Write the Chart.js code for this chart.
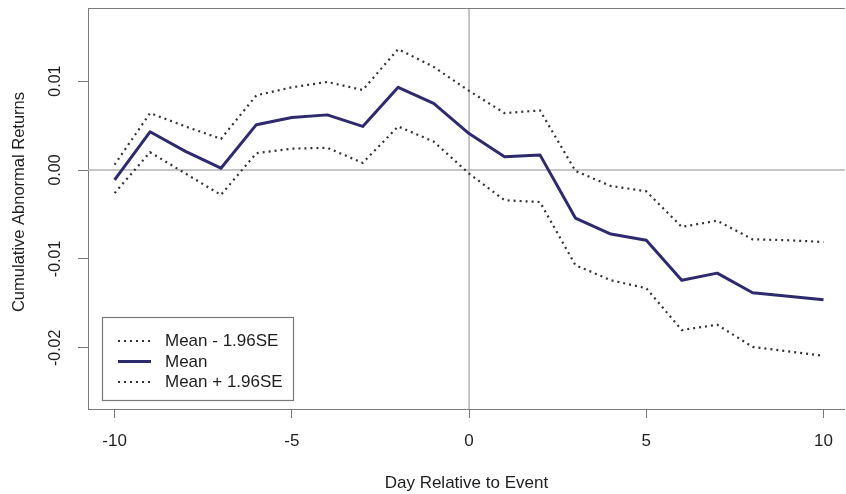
<!DOCTYPE html>
<html>
<head>
<meta charset="utf-8">
<script src="https://cdn.jsdelivr.net/npm/chart.js@4.4.1/dist/chart.umd.min.js"></script>
<style>
  html, body { margin: 0; padding: 0; background: #fff; overflow: hidden; }
</style>
</head>
<body>
<canvas id="car-chart" width="846" height="494"></canvas>
<script>
// event window, days around the event
const days = [-10, -9, -8, -7, -6, -5, -4, -3, -2, -1, 0, 1, 2, 3, 4, 5, 6, 7, 8, 9, 10];
// cumulative abnormal returns
const meanCar  = [-0.0011, 0.0043, 0.0021, 0.0002, 0.0051, 0.0059, 0.0062, 0.0049, 0.0093, 0.0075, 0.0041,
                  0.0015, 0.0017, -0.0054, -0.0072, -0.0079, -0.0124, -0.0116, -0.0138, -0.0142, -0.0146];
const lowerCar = [-0.0026, 0.0020, -0.0004, -0.0028, 0.0019, 0.0024, 0.0025, 0.0008, 0.0049, 0.0032, -0.0004,
                  -0.0034, -0.0036, -0.0107, -0.0124, -0.0133, -0.0180, -0.0174, -0.0199, -0.0204, -0.0209];
const upperCar = [0.0006, 0.0064, 0.0049, 0.0035, 0.0084, 0.0093, 0.0099, 0.0090, 0.0136, 0.0116, 0.0089,
                  0.0064, 0.0067, -0.0001, -0.0018, -0.0024, -0.0064, -0.0057, -0.0078, -0.0079, -0.0081];

const seriesLabels = ['Mean - 1.96SE', 'Mean', 'Mean + 1.96SE'];
const xTicks = [-10, -5, 0, 5, 10];
const yTicks = [-0.02, -0.01, 0, 0.01];
const yTickLabels = ['-0.02', '-0.01', '0.00', '0.01'];
const yTitle = 'Cumulative Abnormal Returns';

const FONT = '"Liberation Sans", Arial, sans-serif';
const AXIS_GREY = '#7a7a7a';
const TEXT = '#1e1e1e';

const toPoints = vals => days.map((d, i) => ({ x: d, y: vals[i] }));

const dotted = {
  borderColor: '#333',
  borderWidth: 2.2,
  borderDash: [2, 4],
  pointRadius: 0,
  tension: 0,
  fill: false
};

// box around the plot, zero lines, rotated y labels, legend
const frame = {
  id: 'frame',
  beforeDatasetsDraw(chart) {
    const { ctx, chartArea: a, scales: { x, y } } = chart;
    ctx.save();
    ctx.strokeStyle = '#b4b4b4';
    ctx.lineWidth = 1.5;
    const x0 = x.getPixelForValue(0), y0 = y.getPixelForValue(0);
    ctx.beginPath();
    ctx.moveTo(x0, a.top); ctx.lineTo(x0, a.bottom);
    ctx.moveTo(a.left, y0); ctx.lineTo(a.right, y0);
    ctx.stroke();
    ctx.restore();
  },
  afterDraw(chart) {
    const { ctx, chartArea: a, scales: { y } } = chart;
    ctx.save();
    // top edge of the box
    ctx.strokeStyle = AXIS_GREY;
    ctx.lineWidth = 1;
    ctx.beginPath();
    ctx.moveTo(a.left, a.top + 0.5); ctx.lineTo(a.right, a.top + 0.5);
    ctx.stroke();

    // y tick labels and axis title, written bottom-to-top
    ctx.fillStyle = TEXT;
    ctx.textAlign = 'center';
    ctx.textBaseline = 'middle';
    ctx.font = '16px ' + FONT;
    yTicks.forEach((v, i) => {
      ctx.save();
      ctx.translate(56, y.getPixelForValue(v));
      ctx.rotate(-Math.PI / 2);
      ctx.fillText(yTickLabels[i], 0, 0);
      ctx.restore();
    });
    ctx.save();
    ctx.font = '16.5px ' + FONT;
    ctx.translate(19, 202);
    ctx.rotate(-Math.PI / 2);
    ctx.fillText(yTitle, 0, 0);
    ctx.restore();

    // legend
    const box = { l: 102.5, t: 317.5, w: 191, h: 83 };
    ctx.fillStyle = '#fff';
    ctx.fillRect(box.l, box.t, box.w, box.h);
    ctx.strokeStyle = AXIS_GREY;
    ctx.lineWidth = 1.2;
    ctx.strokeRect(box.l, box.t, box.w, box.h);
    ctx.font = '17px ' + FONT;
    ctx.textAlign = 'left';
    ctx.textBaseline = 'middle';
    chart.data.datasets.forEach((ds, i) => {
      const ry = 341 + i * 20.5;
      ctx.save();
      ctx.strokeStyle = ds.borderColor;
      ctx.lineWidth = ds.borderWidth;
      ctx.setLineDash(ds.borderDash || []);
      ctx.beginPath();
      ctx.moveTo(118, ry); ctx.lineTo(151, ry);
      ctx.stroke();
      ctx.restore();
      ctx.fillStyle = TEXT;
      ctx.fillText(ds.label, 165, ry + 0.5);
    });
    ctx.restore();
  }
};

new Chart(document.getElementById('car-chart'), {
  type: 'line',
  data: {
    datasets: [
      Object.assign({ label: seriesLabels[0], data: toPoints(lowerCar) }, dotted),
      {
        label: seriesLabels[1],
        data: toPoints(meanCar),
        borderColor: '#2d2b6d',
        borderWidth: 3,
        borderJoinStyle: 'round',
        pointRadius: 0,
        tension: 0,
        fill: false
      },
      Object.assign({ label: seriesLabels[2], data: toPoints(upperCar) }, dotted)
    ]
  },
  options: {
    responsive: false,
    animation: false,
    devicePixelRatio: 1,
    layout: { padding: { top: 8, left: 0, right: 0, bottom: 0 } },
    plugins: { legend: { display: false }, tooltip: { enabled: false } },
    scales: {
      x: {
        type: 'linear',
        min: -10.75,
        max: 10.6,
        afterBuildTicks: s => { s.ticks = xTicks.map(v => ({ value: v })); },
        afterFit: s => { s.height = 85; },
        grid: { drawOnChartArea: false, drawTicks: true, tickLength: 9, color: AXIS_GREY },
        border: { display: true, color: AXIS_GREY, width: 1 },
        ticks: { color: TEXT, font: { family: FONT, size: 17 }, padding: 13 },
        title: {
          display: true,
          text: 'Day Relative to Event',
          color: TEXT,
          font: { family: FONT, size: 17 },
          padding: { top: 0, bottom: 0 }
        }
      },
      y: {
        min: -0.02688,
        max: 0.01822,
        afterBuildTicks: s => { s.ticks = yTicks.map(v => ({ value: v })); },
        afterFit: s => { s.width = 88; },
        grid: { drawOnChartArea: false, drawTicks: true, tickLength: 10, color: AXIS_GREY },
        border: { display: true, color: AXIS_GREY, width: 1 },
        ticks: { display: false }
      }
    }
  },
  plugins: [frame]
});
</script>
</body>
</html>
